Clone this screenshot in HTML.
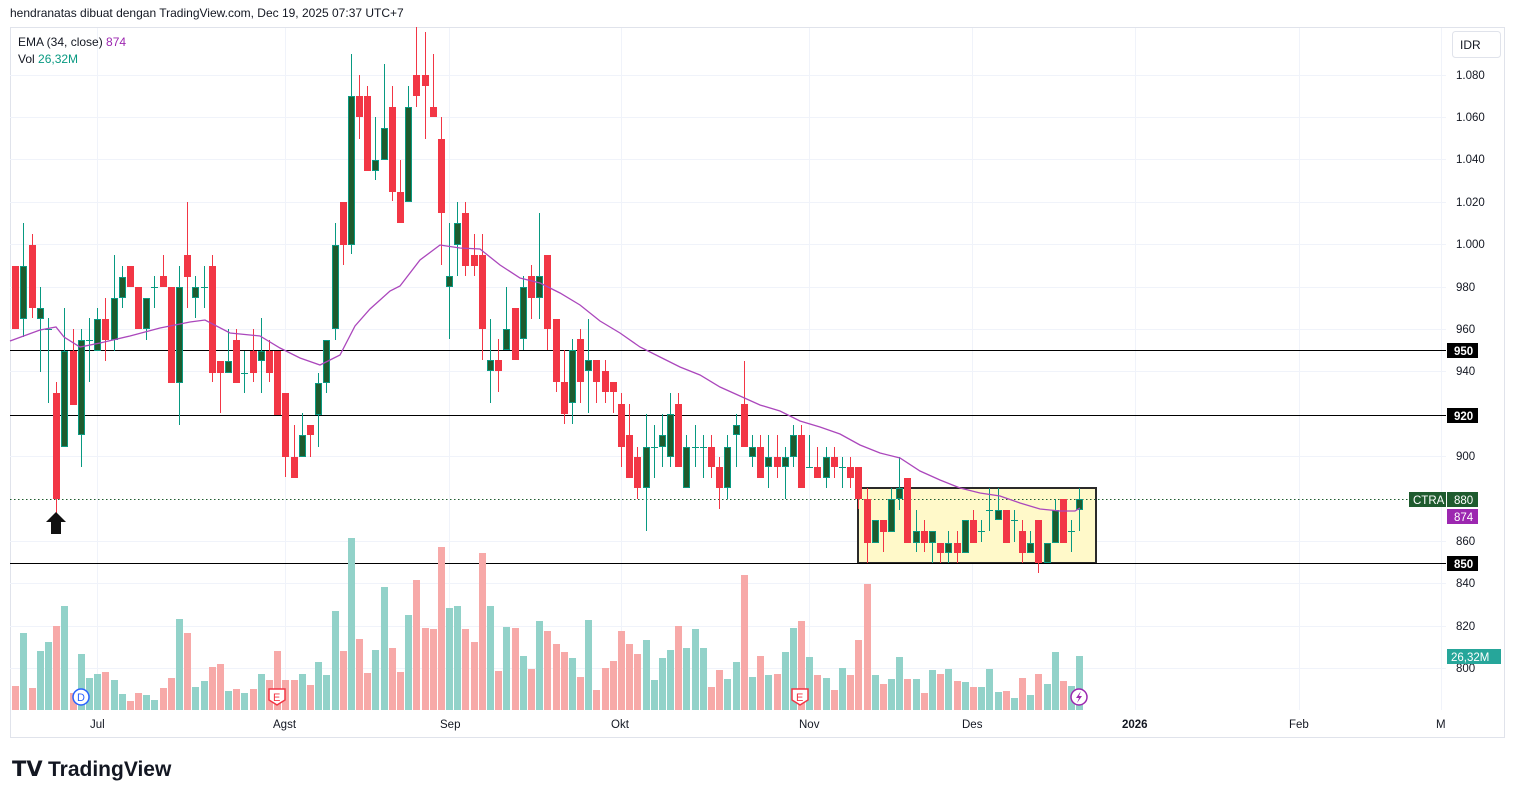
<!DOCTYPE html>
<html><head><meta charset="utf-8">
<style>
body{margin:0;background:#fff;width:1515px;height:798px;overflow:hidden;font-family:"Liberation Sans",sans-serif;}
svg{position:absolute;left:0;top:0}
text{font-family:"Liberation Sans",sans-serif}
</style></head><body>
<svg id="s" width="1515" height="798" xmlns="http://www.w3.org/2000/svg">
<rect x="0" y="0" width="1515" height="798" fill="#fff"/>
<text x="10" y="17" font-size="12" fill="#131722">hendranatas dibuat dengan TradingView.com, Dec 19, 2025 07:37 UTC+7</text>
<rect x="10.5" y="27.5" width="1494" height="710" fill="none" stroke="#e0e3eb"/>
<g id="grid" stroke="#f0f3fa" stroke-width="1"></g>
<rect x="858" y="488" width="238" height="75" fill="#fff9c9" stroke="#2a2a2a" stroke-width="2"/>
<g stroke="#000" stroke-width="1">
<line x1="10" y1="350.5" x2="1446" y2="350.5"/>
<line x1="10" y1="415.5" x2="1446" y2="415.5"/>
<line x1="10" y1="563.5" x2="1446" y2="563.5"/>
</g>
<line x1="10" y1="499.5" x2="1446" y2="499.5" stroke="#1e5b2e" stroke-dasharray="1.5,2.5"/>
<g id="vol"></g>
<g id="cand"></g>
<polyline id="ema" fill="none" stroke="#ab47bc" stroke-width="1.3" points="10,341 40,330 56,327 64,337 80,347 100,343 130,336 160,328 190,322 205,320 230,333 260,336 280,348 300,358 320,365 340,355 355,326 370,309 390,291 400,286 420,260 440,245 460,248 480,249 500,265 520,278 540,283 560,293 580,305 600,321 620,333 640,347 660,357 680,367 700,375 720,387 740,396 760,405 780,411 800,421 820,427 840,434 860,445 880,453 900,458 920,471 940,480 960,488 980,493 1000,496 1020,503 1040,509 1060,511 1075,511 1080,508"/>
<polygon points="56,512 66,522 61,522 61,534 51,534 51,522 46,522" fill="#111"/>
<text x="18" y="46" font-size="12" fill="#131722">EMA (34, close) <tspan fill="#9c27b0">874</tspan></text>
<text x="18" y="63" font-size="12" fill="#131722">Vol <tspan fill="#089981">26,32M</tspan></text>
<rect x="1452.5" y="31.5" width="48" height="26" rx="3" fill="#fff" stroke="#e0e3eb"/>
<text x="1460" y="49" font-size="12" fill="#131722">IDR</text>
<g font-size="11.5" fill="#131722" id="plab"></g>
<rect x="1447" y="343" width="31" height="15" fill="#000"/><text x="1454" y="355" font-size="11.5" fill="#fff" font-weight="bold">950</text>
<rect x="1447" y="408" width="31" height="15" fill="#000"/><text x="1454" y="420" font-size="11.5" fill="#fff" font-weight="bold">920</text>
<rect x="1447" y="556" width="31" height="15" fill="#000"/><text x="1454" y="568" font-size="11.5" fill="#fff" font-weight="bold">850</text>
<rect x="1409" y="492" width="37" height="15" fill="#1e5b2e"/><text x="1413" y="504" font-size="11.5" fill="#fff">CTRA</text>
<rect x="1447" y="492" width="31" height="15" fill="#1e5b2e"/><text x="1454" y="504" font-size="11.5" fill="#fff">880</text>
<rect x="1447" y="509" width="31" height="15" fill="#9c27b0"/><text x="1454" y="521" font-size="11.5" fill="#fff">874</text>
<rect x="1447" y="649" width="54" height="15" fill="#26a69a"/><text x="1451" y="661" font-size="11.5" fill="#fff">26,32M</text>
<g font-size="11.5" fill="#131722">
<text x="90" y="728">Jul</text><text x="273" y="728">Agst</text><text x="440" y="728">Sep</text><text x="611" y="728">Okt</text><text x="799" y="728">Nov</text><text x="962" y="728">Des</text><text x="1122" y="728" font-weight="bold">2026</text><text x="1289" y="728">Feb</text><text x="1436" y="728">M</text>
</g>
<circle cx="81" cy="697" r="8" fill="#fff" stroke="#2962ff" stroke-width="1.5"/><text x="77" y="701" font-size="11" fill="#2962ff">D</text>
<path d="M269,689 h16 v11 l-8,5 l-8,-5z" fill="#fff" stroke="#f23645" stroke-width="1.5"/><text x="273" y="701" font-size="11" fill="#f23645">E</text>
<path d="M792,689 h16 v11 l-8,5 l-8,-5z" fill="#fff" stroke="#f23645" stroke-width="1.5"/><text x="796" y="701" font-size="11" fill="#f23645">E</text>
<circle cx="1079" cy="697" r="8" fill="#fff" stroke="#9c27b0" stroke-width="1.5"/><path d="M1081,691 l-5,7 h3 l-2,5 l5,-7 h-3z" fill="#9c27b0"/>
<text x="12" y="776" font-size="21" font-weight="bold" fill="#131722">𝗧𝗩</text>
<text x="48" y="776" font-size="21" font-weight="bold" fill="#131722">TradingView</text>
</svg>
<script>
var NS="http://www.w3.org/2000/svg";
function el(p,t,a){var e=document.createElementNS(NS,t);for(var k in a)e.setAttribute(k,a[k]);p.appendChild(e);return e;}
var g=document.getElementById('grid');
[75,117,159,202,244,287,329,371,456,541,583,626,668].forEach(function(y){el(g,'line',{x1:10,y1:y+.5,x2:1446,y2:y+.5});});
[97,285,449,621,809,972,1135,1299,1441].forEach(function(x){el(g,'line',{x1:x+.5,y1:28,x2:x+.5,y2:710});});
var pl=document.getElementById('plab');
[[75,'1.080'],[117,'1.060'],[159,'1.040'],[202,'1.020'],[244,'1.000'],[287,'980'],[329,'960'],[371,'940'],[456,'900'],[541,'860'],[583,'840'],[626,'820'],[668,'800']].forEach(function(a){var t=el(pl,'text',{x:1456,y:a[0]+4});t.textContent=a[1];});
var D="r 266 329 266 329 686|g 266 319 223 337 633|r 245 308 234 318 688|g 308 319 287 372 651|g 329 329 318 403 642|r 393 499 382 519 626|g 351 447 308 447 606|r 351 405 329 405 693|g 340 435 329 467 654|g 340 340 318 382 678|g 319 351 308 351 674|r 319 340 298 361 672|g 298 340 255 351 680|g 277 298 266 308 694|r 266 287 266 287 701|r 287 329 287 329 693|g 298 329 298 340 695|g 287 287 276 308 700|r 276 287 255 287 688|r 287 383 287 383 678|g 287 383 266 425 619|r 255 277 202 308 633|g 287 298 276 318 687|g 287 287 266 308 681|r 266 373 255 382 667|r 361 373 361 413 664|g 361 373 329 373 691|r 340 383 329 383 689|g 373 373 351 393 693|r 351 373 329 382 689|g 351 361 318 393 674|r 351 373 340 382 680|r 351 415 351 415 651|r 393 457 393 477 680|r 457 478 425 478 680|g 435 457 413 457 674|r 425 435 425 457 685|g 383 415 373 447 662|g 340 383 340 393 675|g 245 329 223 340 611|r 202 245 202 265 651|"+
"g 96 245 54 254 538|r 96 117 75 139 639|r 96 171 86 171 673|g 160 171 117 180 650|g 128 160 64 160 587|r 107 192 86 201 648|r 192 223 160 223 672|g 107 202 86 202 615|r 75 96 27 107 580|r 75 86 32 139 628|r 107 117 54 117 629|r 139 213 117 265 547|g 276 287 223 339 608|g 223 245 202 276 606|r 213 266 202 276 629|r 255 266 234 276 642|r 255 329 234 360 553|g 360 371 319 403 606|r 360 371 339 392 671|g 329 350 287 350 627|r 308 360 308 360 628|g 287 339 276 350 656|r 276 298 265 319 669|g 276 298 213 319 621|r 255 329 255 350 631|r 319 382 319 392 644|r 382 414 350 424 652|g 350 403 339 424 658|r 339 382 329 403 677|g 360 371 319 413 620|r 360 382 360 403 690|r 371 392 360 403 668|r 382 392 382 413 661|r 404 447 393 467 631|r 435 478 404 478 644|"+
"r 457 488 447 499 654|g 447 488 414 531 640|g 447 447 425 478 680|g 435 447 414 467 658|g 414 457 393 467 650|r 404 467 393 467 626|g 447 488 435 488 648|g 447 447 425 467 629|g 447 447 435 478 648|r 447 467 435 478 687|r 467 488 457 509 670|g 447 488 435 499 679|g 425 435 414 467 662|r 404 447 361 447 575|g 447 457 435 467 677|r 447 478 435 478 656|g 457 467 435 488 675|r 457 467 435 478 674|g 457 467 447 499 652|g 435 457 425 467 628|r 435 488 425 488 621|g 467 467 435 467 657|r 467 478 447 478 675|g 457 478 447 488 678|r 457 467 447 478 690|g 467 467 457 488 668|r 467 478 457 488 675|r 467 499 467 509 640|r 499 543 488 563 584|"+
"g 520 543 520 543 675|r 520 532 520 552 684|g 499 532 488 532 679|g 488 499 457 510 657|r 478 543 478 543 679|g 531 543 510 552 679|r 531 543 520 552 693|g 531 543 531 563 670|r 543 553 543 563 674|g 543 553 531 563 669|r 543 553 531 563 681|g 520 553 520 553 682|r 520 543 510 543 687|g 531 531 520 542 687|g 510 510 488 531 669|g 510 520 488 520 692|r 510 543 510 543 691|g 520 520 510 542 698|r 531 553 520 563 678|g 543 553 531 553 695|r 520 563 520 573 674|g 543 563 543 563 684|g 510 543 499 543 652|r 499 543 499 543 681|g 531 531 520 552 686|g 499 510 488 531 656";
var C=document.getElementById('cand'),V=document.getElementById('vol');
D.split('|').forEach(function(s,i){var a=s.split(' '),c=a[0],t=+a[1],b=+a[2],h=+a[3],l=+a[4],v=+a[5];
var x=Math.round(15.3+i*8.185);
el(V,'rect',{x:x-3,y:v,width:7,height:710-v,fill:c=='g'?'#92d2c9':'#f7a9a8'});
var wc=c=='g'?'#089981':'#f23645';
el(C,'line',{x1:x+.5,y1:h,x2:x+.5,y2:l,stroke:wc,'stroke-width':1});
if(b-t<1){el(C,'line',{x1:x-3,y1:t+.5,x2:x+4,y2:t+.5,stroke:wc,'stroke-width':1});}
else if(c=='g'){el(C,'rect',{x:x-2.5,y:t+.5,width:6,height:b-t-1,fill:'#1e5b2e',stroke:'#089981','stroke-width':1});}
else{el(C,'rect',{x:x-3,y:t,width:7,height:b-t,fill:'#f23645'});}
});
</script>
</body></html>
